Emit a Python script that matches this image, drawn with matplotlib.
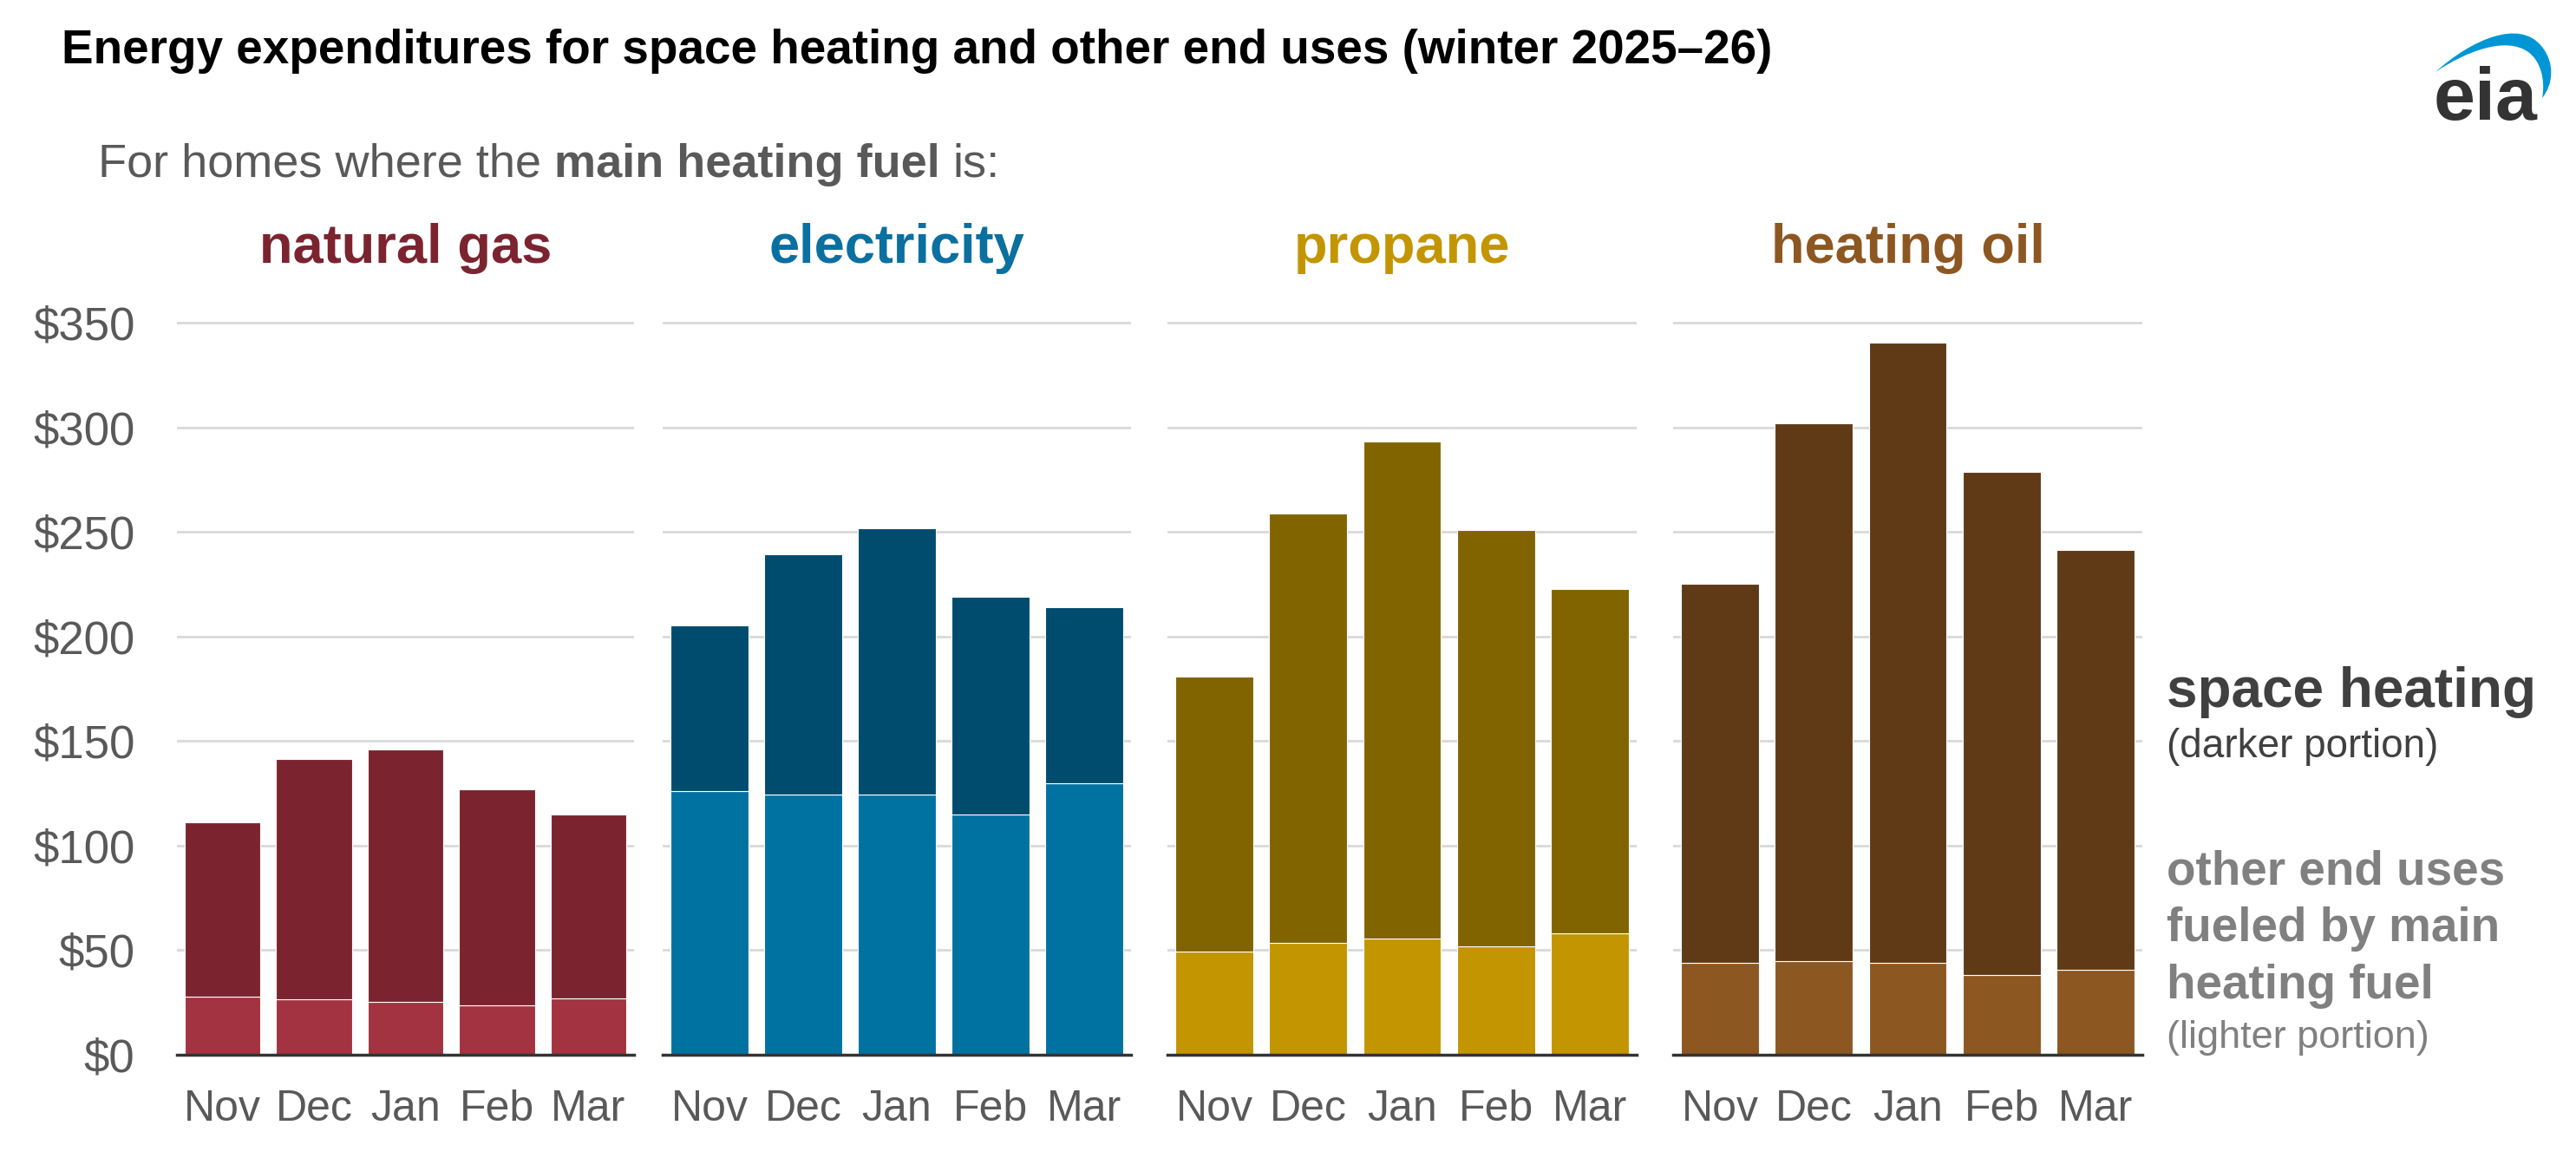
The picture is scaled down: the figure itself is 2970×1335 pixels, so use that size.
import matplotlib
matplotlib.use('Agg')
import matplotlib.pyplot as plt
import numpy as np
from matplotlib.path import Path
from matplotlib.patches import PathPatch

plt.rcParams['font.family'] = ['Liberation Sans', 'DejaVu Sans']

#%% data (monthly expenditures, dollars per home)
months = ['Nov', 'Dec', 'Jan', 'Feb', 'Mar']
fuels = ['natural gas', 'electricity', 'propane', 'heating oil']

ng_other = [27.6, 26.5, 25.4, 23.8, 27.1]
ng_heat = [83.7, 114.9, 120.6, 103.1, 87.7]
el_other = [126.1, 124.4, 124.4, 114.8, 129.9]
el_heat = [79.3, 115.1, 127.2, 104.2, 84.2]
pr_other = [49.5, 53.6, 55.5, 51.7, 58.0]
pr_heat = [131.2, 205.3, 237.9, 199.1, 164.6]
oil_other = [44.0, 44.6, 44.0, 38.3, 40.7]
oil_heat = [181.0, 257.3, 296.4, 240.3, 200.5]

yticks = [0, 50, 100, 150, 200, 250, 300, 350]

#%% styles
dark = ['#7B2430', '#004C6E', '#816400', '#603A17']
light = ['#A33340', '#0072A2', '#C39500', '#8D5722']
title_col = ['#7B2430', '#0A70A0', '#C39500', '#8D5722']
others = [ng_other, el_other, pr_other, oil_other]
heats = [ng_heat, el_heat, pr_heat, oil_heat]

W, H = 2970, 1335
fig = plt.figure(figsize=(W / 100, H / 100), dpi=100)

def fx(x):
    return x / W

def fy(y):
    return 1 - y / H

# panel extents in pixels
panels = [(204, 731), (764, 1304), (1346, 1887), (1929, 2470)]
y_top, y_base = 360, 1216
x = np.arange(len(months))

for i, (l, r) in enumerate(panels):
    ax = fig.add_axes([fx(l), fy(y_base), (r - l) / W, (y_base - y_top) / H])
    ax.bar(x, others[i], width=0.83, color=light[i], edgecolor='white', linewidth=0.8, zorder=2)
    ax.bar(x, heats[i], bottom=others[i], width=0.83, color=dark[i],
           edgecolor='white', linewidth=0.8, zorder=2)
    ax.set_xlim(-0.5, 4.5)
    ax.set_ylim(0, 355)
    ax.set_yticks(yticks)
    ax.set_axisbelow(True)
    ax.grid(axis='y', color='#D9D9D9', lw=2)
    for s in ['top', 'right', 'left']:
        ax.spines[s].set_visible(False)
    ax.spines['bottom'].set_color('#333333')
    ax.spines['bottom'].set_linewidth(2.5)
    ax.spines['bottom'].set_zorder(5)
    ax.set_xticks(x)
    ax.set_xticklabels(months, fontsize=36, color='#595959')
    ax.tick_params(axis='x', length=0, pad=29)
    if i == 0:
        ax.set_yticklabels([f'${v}' for v in yticks], fontsize=38, color='#595959')
        ax.tick_params(axis='y', length=0, pad=35)
    else:
        ax.tick_params(axis='y', length=0, labelleft=False)
    fig.text(fx((l + r) / 2), fy(303), fuels[i], ha='center', va='baseline',
             fontsize=45.5, fontweight='bold', color=title_col[i])

#%% titles
fig.text(fx(71), fy(73), 'Energy expenditures for space heating and other end uses (winter 2025\u201326)',
         fontsize=39.5, fontweight='bold', color='black', va='baseline')

renderer = fig.canvas.get_renderer()
t1 = fig.text(fx(113), fy(204), 'For homes where the', fontsize=39, color='#595959', va='baseline')
sp = 0.278 * 39 * 100 / 72
w1 = t1.get_window_extent(renderer).width
t2 = fig.text(fx(113 + w1 + sp), fy(204), 'main heating fuel', fontsize=39, fontweight='bold',
              color='#595959', va='baseline')
w2 = t2.get_window_extent(renderer).width
fig.text(fx(113 + w1 + w2 + 2 * sp), fy(204), 'is:', fontsize=39, color='#595959', va='baseline')

#%% legend text on the right
lx = 2498
fig.text(fx(lx), fy(815), 'space heating', fontsize=46, fontweight='bold', color='#404040', va='baseline')
fig.text(fx(lx), fy(873), '(darker portion)', fontsize=33, color='#404040', va='baseline')
for yy, s in zip([1019, 1085, 1151], ['other end uses', 'fueled by main', 'heating fuel']):
    fig.text(fx(lx), fy(yy), s, fontsize=39.5, fontweight='bold', color='#808080', va='baseline')
fig.text(fx(lx), fy(1208), '(lighter portion)', fontsize=32.5, color='#808080', va='baseline')

#%% eia logo
fig.text(fx(2806), fy(138), 'eia', fontsize=62, fontweight='bold', color='#333333', va='baseline')
verts = [(2808, 83), (2850, 45), (2905, 22), (2930, 53),
         (2946, 72), (2944, 97), (2931, 113),
         (2935, 92), (2929, 70), (2915, 60),
         (2890, 42), (2845, 58), (2808, 83), (2808, 83)]
codes = [Path.MOVETO, Path.CURVE4, Path.CURVE4, Path.CURVE4,
         Path.CURVE4, Path.CURVE4, Path.CURVE4,
         Path.CURVE4, Path.CURVE4, Path.CURVE4,
         Path.CURVE4, Path.CURVE4, Path.CURVE4, Path.CLOSEPOLY]
verts = [(fx(a), fy(b)) for a, b in verts]
fig.patches.append(PathPatch(Path(verts, codes), transform=fig.transFigure,
                             facecolor='#0096D6', edgecolor='none'))

fig.savefig('out.png', dpi=100)
